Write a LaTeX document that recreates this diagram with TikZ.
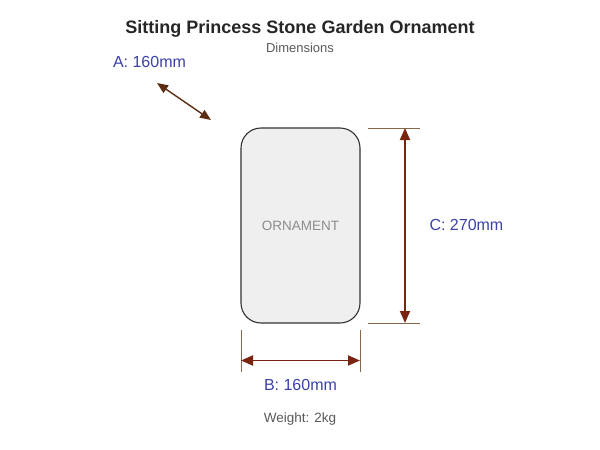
\documentclass[tikz,border=0pt]{standalone}
\usepackage{fontspec}
\setmainfont{Liberation Sans}
\usepackage{xcolor}
\usetikzlibrary{calc}
\usetikzlibrary{positioning}
\usetikzlibrary{arrows.meta}

\definecolor{dimred}{HTML}{7A2410}
\definecolor{dimbrown}{HTML}{5C2C12}
\definecolor{extgray}{HTML}{86674C}
\definecolor{lblue}{HTML}{3B41A6}
\definecolor{bodyfill}{HTML}{EFEFEF}

\begin{document}
\begin{tikzpicture}[x=1pt, y=1pt, font=\sffamily]
\tikzstyle{block}=[draw=black!80, line width=1.1pt, rectangle, rounded corners=20pt, fill=bodyfill, minimum width=119pt, minimum height=195pt, inner sep=0pt]
\tikzstyle{dimline}=[{Triangle[length=12pt, width=10pt]}-{Triangle[length=12pt, width=10pt]}, draw=dimred, line width=1.8pt]
\tikzstyle{extline}=[draw=extgray, line width=0.9pt]
\tikzstyle{annot} = [text=lblue, font=\fontsize{16}{18}\selectfont]
\tikzstyle{note} = [text=black!65, font=\fontsize{13.5}{16}\selectfont]

\useasboundingbox (0,0) rectangle (600,-450);

\node[font=\bfseries\fontsize{18}{20}\selectfont, text=black!85] (title) at (300,-29) {Sitting Princess Stone Garden Ornament};
\node[note, font=\fontsize{13}{15}\selectfont] (sub) at (300,-48) {Dimensions};

\node[block] (orn) at (300.5,-225.5) {};
\node[text=black!45, font=\fontsize{13.5}{16}\selectfont] at (orn.center) {ORNAMENT};

% height
\coordinate (cTop) at (405,-128);
\coordinate (cBot) at (405,-323);
\draw[extline] (368,-128) -- (420,-128);
\draw[extline] (368,-323) -- (420,-323);
\draw[dimline] (cTop) -- (cBot);
\node[annot, anchor=west] (cLbl) at (426,-225) {C: 270mm};

% width
\coordinate (bLeft) at (241,-360.5);
\coordinate (bRight) at (360,-360.5);
\draw[extline] (241,-330) -- (241,-372);
\draw[extline] (360,-330) -- (360,-372);
\draw[dimline] (bLeft) -- (bRight);
\node[annot] (bLbl) at (300.5,-385) {B: 160mm};

% depth
\coordinate (aStart) at (157,-83);
\coordinate (aEnd) at (211,-120);
\draw[{Triangle[length=11pt, width=9pt]}-{Triangle[length=11pt, width=9pt]}, draw=dimbrown, line width=1.4pt] (aStart) -- (aEnd);
\node[annot] (aLbl) at (149.5,-62) {A: 160mm};

\node[note] (wt) at (300,-419) {Weight: 2kg};
\end{tikzpicture}
\end{document}
